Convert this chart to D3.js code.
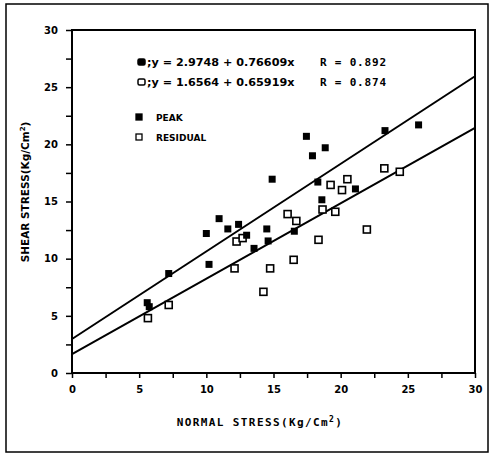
<!DOCTYPE html>
<html>
<head>
<meta charset="utf-8">
<script src="https://cdn.jsdelivr.net/npm/d3@7"></script>
<style>
  body { margin: 0; background: #fff; }
  text { font-family: "DejaVu Sans", sans-serif; font-weight: bold; fill: #000; }
</style>
</head>
<body>
<script>
// peak strength points [normal stress, shear stress]
var peakX = [5.6, 5.75, 7.2, 10.0, 10.2, 10.95, 11.6, 12.4, 13.0, 13.55, 14.5, 14.6, 14.9, 16.55, 17.45, 17.9, 18.85, 18.3, 18.6, 21.1, 23.3, 25.8];
var peakY = [6.15, 5.8, 8.7, 12.2, 9.5, 13.5, 12.6, 13.0, 12.05, 10.9, 12.6, 11.55, 16.95, 12.4, 20.7, 19.0, 19.7, 16.7, 15.15, 16.1, 21.2, 21.7];
// residual strength points
var resX = [5.65, 7.2, 12.25, 12.7, 12.1, 14.25, 14.75, 16.05, 16.7, 16.5, 18.35, 18.65, 19.25, 19.6, 20.1, 20.5, 21.95, 23.25, 24.4];
var resY = [4.8, 5.95, 11.5, 11.8, 9.15, 7.1, 9.15, 13.9, 13.3, 9.9, 11.65, 14.3, 16.45, 14.1, 16.0, 16.95, 12.55, 17.9, 17.6];
// fitted lines: intercept, slope, R
var fitNames = ["peak", "residual"];
var fitA = [2.9748, 1.6564];
var fitB = [0.76609, 0.65919];
var fitR = ["0.892", "0.874"];
var ticks = [0, 5, 10, 15, 20, 25, 30];

var W = 494, H = 455;
var svg = d3.select("body").append("svg").attr("width", W).attr("height", H);

// outer frame
svg.append("rect").attr("x", 6).attr("y", 4).attr("width", 482).attr("height", 448)
    .attr("fill", "none").attr("stroke", "#000").attr("stroke-width", 1.5);

var x = d3.scaleLinear().domain([0, 30]).range([72, 475]);
var y = d3.scaleLinear().domain([0, 30]).range([373, 30]);

// minor ticks
var minor = d3.range(0, 30.1, 2.5);
svg.append("g").attr("transform", "translate(0,373)")
    .call(d3.axisBottom(x).tickValues(minor).tickSize(5).tickFormat(""))
    .call(function(g){ g.selectAll("line").attr("stroke-width", 1.5); g.select(".domain").remove(); });
svg.append("g").attr("transform", "translate(72,0)")
    .call(d3.axisLeft(y).tickValues(minor).tickSize(6).tickFormat(""))
    .call(function(g){ g.selectAll("line").attr("stroke-width", 1.5); g.select(".domain").remove(); });

// labelled axes
var xa = svg.append("g").attr("transform", "translate(0,373)")
    .call(d3.axisBottom(x).tickValues(ticks).tickSize(0).tickPadding(13));
var ya = svg.append("g").attr("transform", "translate(72,0)")
    .call(d3.axisLeft(y).tickValues(ticks).tickSize(0).tickPadding(14));
[xa, ya].forEach(function(g){
    g.select(".domain").remove();
    g.selectAll("text").style("font-size", "10px").style("font-family", "DejaVu Sans").style("font-weight", "bold");
});

// plot box
svg.append("rect").attr("x", x(0)).attr("y", y(30))
    .attr("width", x(30) - x(0)).attr("height", y(0) - y(30))
    .attr("fill", "none").attr("stroke", "#000").attr("stroke-width", 2);

// regression lines
fitA.forEach(function(a, i){
    svg.append("line")
        .attr("x1", x(0)).attr("y1", y(a))
        .attr("x2", x(30)).attr("y2", y(a + fitB[i] * 30))
        .attr("stroke", "#000").attr("stroke-width", 2);
});

var s = 7;
svg.append("g").selectAll("rect")
    .data(d3.range(resX.length)).enter().append("rect")
    .attr("x", function(i){ return x(resX[i]) - s / 2; })
    .attr("y", function(i){ return y(resY[i]) - s / 2; })
    .attr("width", s).attr("height", s)
    .attr("fill", "#fff").attr("stroke", "#000").attr("stroke-width", 1.6);
svg.append("g").selectAll("rect")
    .data(d3.range(peakX.length)).enter().append("rect")
    .attr("x", function(i){ return x(peakX[i]) - s / 2; })
    .attr("y", function(i){ return y(peakY[i]) - s / 2; })
    .attr("width", s).attr("height", s)
    .attr("fill", "#000");

// equations
fitNames.forEach(function(n, i){
    var yy = 63 + i * 20;
    svg.append("rect").attr("x", 138).attr("y", yy - 4).attr("width", 7).attr("height", 6)
        .attr("rx", 1.5)
        .attr("fill", i === 0 ? "#000" : "#fff").attr("stroke", "#000").attr("stroke-width", 1.5);
    svg.append("text").attr("x", 147).attr("y", yy + 3).style("font-size", "11.2px")
        .text(";y = " + fitA[i].toFixed(4) + " + " + fitB[i] + "x");
    svg.append("text").attr("x", 320).attr("y", yy + 3).style("font-size", "11px")
        .style("font-family", "DejaVu Sans Mono").style("letter-spacing", "0.8px")
        .text("R = " + fitR[i]);
});

// legend
var leg = [["PEAK", "#000"], ["RESIDUAL", "#fff"]];
leg.forEach(function(l, i){
    var yy = 117 + i * 20;
    svg.append("rect").attr("x", 136).attr("y", yy - 3).attr("width", 6).attr("height", 6)
        .attr("fill", l[1]).attr("stroke", "#000").attr("stroke-width", 1.3);
    svg.append("text").attr("x", 156).attr("y", yy + 3.5).style("font-size", "9px").text(l[0]);
});

// axis titles
svg.append("text").attr("x", 260).attr("y", 426).attr("text-anchor", "middle")
    .style("font-size", "11px").style("font-family", "DejaVu Sans Mono").style("letter-spacing", "1.4px")
    .html('NORMAL STRESS(Kg/Cm<tspan dy="-4" font-size="8">2</tspan><tspan dy="4">)</tspan>');
svg.append("text").attr("transform", "translate(29,192) rotate(-90)").attr("text-anchor", "middle")
    .style("font-size", "10.5px")
    .html('SHEAR STRESS(Kg/Cm<tspan dy="-4" font-size="7">2</tspan><tspan dy="4">)</tspan>');
</script>
</body>
</html>
